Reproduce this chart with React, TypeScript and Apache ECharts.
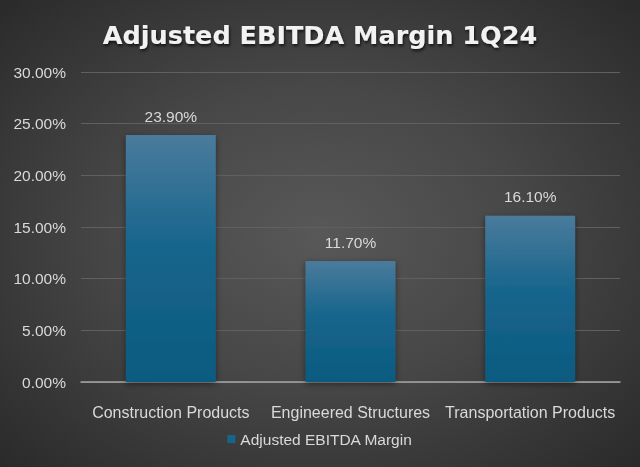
import React, { useEffect, useRef } from "react";
import * as echarts from "echarts";

const categories = ["Construction Products", "Engineered Structures", "Transportation Products"];
const marginValues = [23.9, 11.7, 16.1];
const seriesName = "Adjusted EBITDA Margin";
const titleText = "Adjusted EBITDA Margin 1Q24";
const yMin = 0;
const yMax = 30;
const yInterval = 5;

export default function App() {
  const ref = useRef<HTMLDivElement>(null);
  useEffect(() => {
    document.body.style.margin = "0";
    const chart = echarts.init(ref.current!, undefined, { renderer: "svg" });
    const barColor = new echarts.graphic.LinearGradient(0, 0, 0, 1, [
      { offset: 0, color: "#4a7b9c" },
      { offset: 0.45, color: "#17658c" },
      { offset: 1, color: "#0b5a80" },
    ]);
    chart.setOption({
      animation: false,
      backgroundColor: "transparent",
      title: {
        text: titleText,
        left: "center",
        top: 17,
        textStyle: {
          color: "#f2f2f2",
          fontFamily: "DejaVu Sans",
          fontWeight: "bold",
          fontSize: 25.5,
          textShadowColor: "rgba(0,0,0,0.7)",
          textShadowBlur: 3,
          textShadowOffsetX: 1,
          textShadowOffsetY: 2,
        },
      },
      grid: { left: 81, right: 20, top: 72, bottom: 85, containLabel: false },
      legend: {
        bottom: 15,
        left: "center",
        itemWidth: 8,
        itemHeight: 8,
        itemGap: 5,
        icon: "rect",
        data: [{ name: seriesName, itemStyle: { color: "#17658c" } }],
        textStyle: { color: "#d9d9d9", fontSize: 15.5, fontFamily: "Liberation Sans" },
      },
      xAxis: {
        type: "category",
        data: categories,
        axisLine: { lineStyle: { color: "#a6a6a6", width: 1.5 } },
        axisTick: { show: false },
        axisLabel: { color: "#d9d9d9", fontSize: 16, margin: 22, fontFamily: "Liberation Sans", interval: 0 },
      },
      yAxis: {
        type: "value",
        min: yMin,
        max: yMax,
        interval: yInterval,
        axisLine: { show: false },
        axisTick: { show: false },
        splitLine: { lineStyle: { color: "#606060", width: 1.2 } },
        axisLabel: {
          color: "#d9d9d9",
          fontSize: 15.5,
          margin: 15,
          fontFamily: "Liberation Sans",
          formatter: (v: number) => v.toFixed(2) + "%",
        },
      },
      series: [
        {
          name: seriesName,
          type: "bar",
          data: marginValues,
          barWidth: "50%",
          itemStyle: {
            color: barColor,
            shadowColor: "rgba(0,0,0,0.45)",
            shadowBlur: 6,
            shadowOffsetX: 0,
            shadowOffsetY: 2,
          },
          label: {
            show: true,
            position: "top",
            distance: 11,
            color: "#d9d9d9",
            fontSize: 15.5,
            fontFamily: "Liberation Sans",
            formatter: (p: any) => Number(p.value).toFixed(2) + "%",
          },
        },
      ],
    });
    return () => chart.dispose();
  }, []);
  return (
    <div
      ref={ref}
      style={{
        position: "fixed",
        left: 0,
        top: 0,
        width: 640,
        height: 467,
        background: "radial-gradient(ellipse at 50% 50%, #585858 0%, #474747 45%, #2a2a2a 100%)",
      }}
    />
  );
}
